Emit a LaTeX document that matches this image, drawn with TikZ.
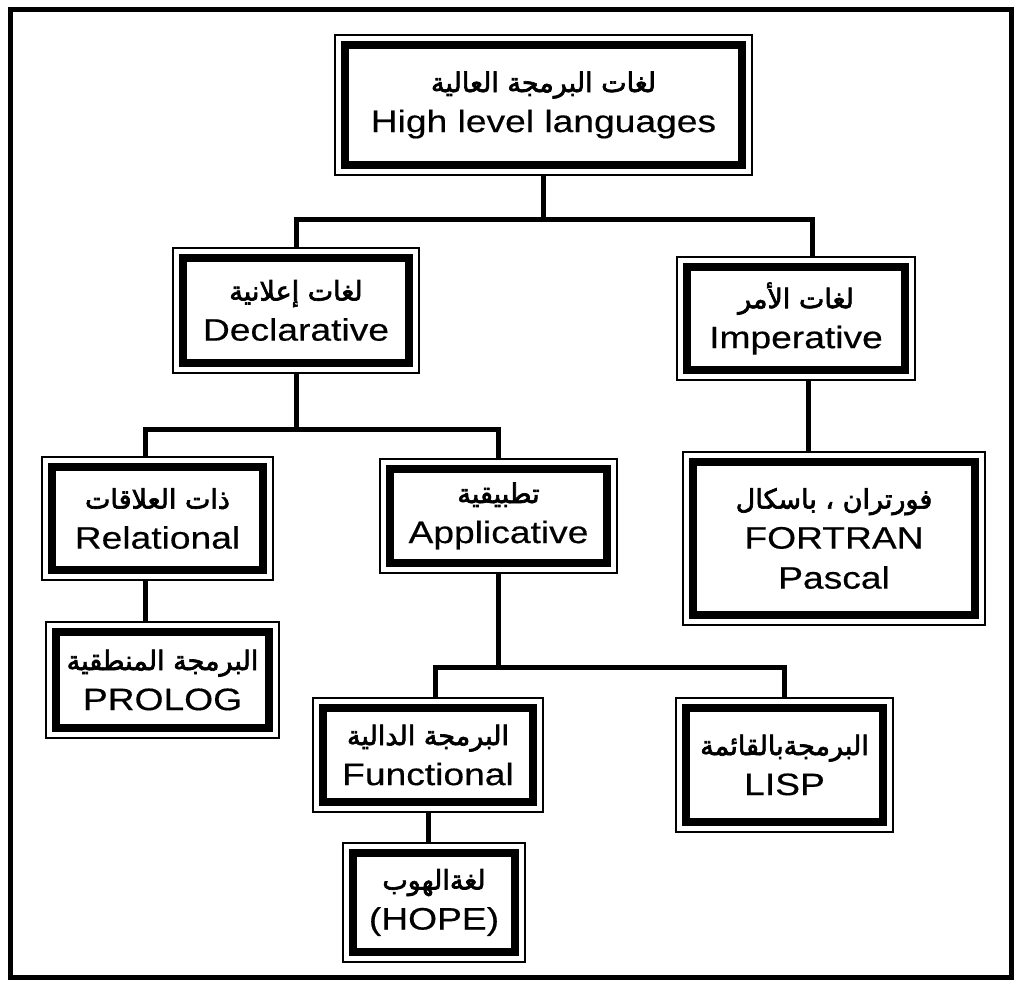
\documentclass[tikz,border=0pt]{standalone}
\usepackage{fontspec}
\setmainfont{Liberation Sans}[FakeStretch=1.2,FakeBold=0.4]
\newfontfamily\arabicfont[Script=Arabic,FakeBold=2.5]{DejaVu Sans}
\TeXXeTstate=1
\usetikzlibrary{positioning}
\newcommand{\artext}[1]{{\arabicfont\fontsize{27}{40}\selectfont\beginR #1\endR}}

\begin{document}
\begin{tikzpicture}[
x=1pt,y=-1pt,
langbox/.style={draw,line width=2pt,outer sep=0pt,inner sep=0pt,align=center,
  font=\fontsize{31}{40}\selectfont,
  path picture={\draw[line width=8pt] ([shift={(10pt,-10pt)}]path picture bounding box.north west) rectangle ([shift={(-10pt,10pt)}]path picture bounding box.south east);}},
link/.style={line width=5pt}
]
\useasboundingbox[fill=white] (0,0) rectangle (1018,981);
\draw[line width=5pt] (10,10) rectangle (1011,977);

\node[langbox,minimum width=417pt,minimum height=140pt] (hll) at (543.5,105) {\artext{لغات البرمجة العالية}\\High level languages};
\node[langbox,minimum width=246pt,minimum height=125pt,below=73pt of hll,xshift=-247.5pt] (decl) {\artext{لغات إعلانية}\\Declarative};
\node[langbox,minimum width=238pt,minimum height=123pt,below=82pt of hll,xshift=252.5pt] (imp) {\artext{لغات الأمر}\\Imperative};
\node[langbox,minimum width=231pt,minimum height=123pt,below=84pt of decl,xshift=-138.5pt] (rel) {\artext{ذات العلاقات}\\Relational};
\node[langbox,minimum width=237pt,minimum height=114pt,below=86pt of decl,xshift=202.5pt] (app) {\artext{تطبيقية}\\Applicative};
\node[langbox,minimum width=233pt,minimum height=116pt,below=42pt of rel,xshift=5pt] (prolog) {\artext{البرمجة المنطقية}\\PROLOG};
\node[langbox,minimum width=302pt,minimum height=173pt,below=72pt of imp,xshift=38pt] (fort) {\artext{فورتران ، باسكال}\\FORTRAN\\Pascal};
\node[langbox,minimum width=230pt,minimum height=114pt,below=125pt of app,xshift=-70.5pt] (func) {\artext{البرمجة الدالية}\\Functional};
\node[langbox,minimum width=217pt,minimum height=134pt,below=125pt of app,xshift=286pt] (lisp) {\artext{البرمجةبالقائمة}\\LISP};
\node[langbox,minimum width=182pt,minimum height=119pt,below=31pt of func,xshift=6pt] (hope) {\artext{لغةالهوب}\\(HOPE)};

\coordinate (r1) at ([xshift=-12pt]rel.south);
\coordinate (i1) at ([xshift=12pt]imp.south);
\draw[link] (hll.south) -- ++(0,45) coordinate (j1);
\draw[link] (j1) -| (decl.north);
\draw[link] (j1) -| ([xshift=16pt]imp.north);
\draw[link] (decl.south) -- ++(0,57) coordinate (j2);
\draw[link] (j2) -| ([xshift=-12pt]rel.north);
\draw[link] (j2) -| (app.north);
\draw[link] (r1) -- (r1 |- prolog.north);
\draw[link] (i1) -- (i1 |- fort.north);
\draw[link] (app.south) -- ++(0,94) coordinate (j3);
\draw[link] (j3) -| ([xshift=7pt]func.north);
\draw[link] (j3) -| (lisp.north);
\draw[link] (func.south) -- (func.south |- hope.north);
\end{tikzpicture}
\end{document}
